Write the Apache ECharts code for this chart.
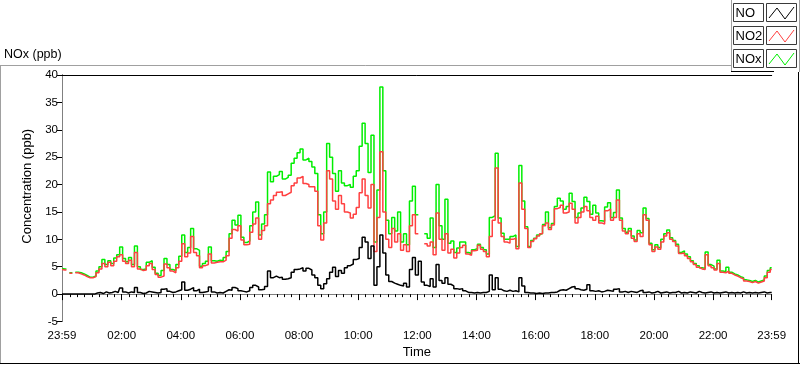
<!DOCTYPE html>
<html><head><meta charset="utf-8">
<script src="https://cdn.jsdelivr.net/npm/echarts@6/dist/echarts.min.js"></script>
<style>html,body{margin:0;padding:0;background:#fff}#c{width:800px;height:365px}</style>
</head><body><div id="c"></div>
<script>
// x = minutes after 23:59 (previous day); samples every 6 minutes
const stepMinutes = 6;
const tickLabelMinutes = [0,121,241,361,481,601,721,841,961,1081,1201,1321,1440];
const seriesNames = ['NO','NO2','NOx'];
const seriesColors = ['#000000','#ff4040','#00ee00'];

const no = [
0,0,0,0,0,0,0,0,0,0,
0,0,0.2,0.3,0.1,0.4,0.2,0.3,0.5,0.3,
1.1,0.4,0.2,0.4,0.3,1.2,0.3,0.1,0.2,0.5,
0.4,0.3,0.2,0.3,0.9,1.0,0.5,0.3,0.4,0.6,
0.8,2.2,0.7,0.9,1.2,0.6,0.9,0.3,0.4,0.5,
1.3,0.4,0.2,0.3,0.2,0.5,0.8,0.7,1.2,1.0,
0.6,0.5,0.4,0.6,1.2,1.6,1.3,0.8,0.9,1.4,
4.2,3.0,3.3,3.0,3.1,2.7,2.8,3.0,4.0,4.5,
4.6,4.8,4.2,4.7,4.4,3.5,3.0,1.6,1.0,1.9,
2.8,4.0,4.9,3.2,4.3,3.8,4.8,5.2,5.5,6.3,
6.5,8.5,10.4,9.5,6.5,8.8,1.6,5.0,10.8,7.5,
3.5,2.3,2.0,1.8,1.6,1.5,2.0,1.3,4.5,6.7,
3.5,6.0,2.2,1.6,1.4,2.8,1.3,5.4,2.5,2.0,
3.0,1.8,1.5,1.0,0.9,1.0,0.6,0.3,0.3,0.2,
0.3,0.2,0.3,0.3,0.5,3.5,0.8,3.0,0.9,0.6,
0.5,0.7,0.5,0.6,0.4,3.0,1.5,0.3,0.2,0.2,
0.1,0.2,0.1,0.2,0.2,0.3,0.3,0.4,0.7,0.8,
0.7,1.0,1.3,1.4,1.0,0.8,0.7,0.9,1.7,0.6,
0.5,0.6,0.4,0.5,0.7,0.6,0.5,0.9,1.0,0.4,
0.5,0.3,0.5,0.4,0.3,0.6,0.7,0.3,0.4,0.2,
0.3,0.5,0.2,0.3,0.4,0.2,0.3,0.3,0.5,0.2,
0.3,0.2,0.4,0.3,0.2,0.5,0.3,0.2,0.3,0.4,
0.2,0.3,0.2,0.3,0.4,0.2,0.3,0.2,0.3,0.2,
0.4,0.2,0.3,0.2,0.3,0.2,0.3,0.4,0.2,0.3,
0.3];

const no2 = [
4.5,4.4,null,3.8,null,3.9,3.7,3.5,3.2,3.0,
3.0,3.2,3.9,4.6,5.6,5.0,5.8,5.2,6.0,6.8,
7.2,6.0,5.6,6.2,5.0,7.6,4.6,4.3,4.4,5.2,
5.6,4.5,3.6,3.1,3.3,5.5,4.8,4.2,3.9,4.8,
6.0,9.2,6.8,7.5,10.5,7.6,7.0,4.8,5.2,5.4,
7.3,5.7,5.8,5.9,5.9,6.2,7.0,10.2,11.8,11.5,
12.5,9.9,9.0,9.1,11.3,12.8,13.9,10.0,11.6,12.5,
16.5,17.2,18.0,18.6,18.7,18.0,18.3,18.6,19.8,20.3,
21.2,21.5,20.2,20.0,19.6,19.6,18.8,12.5,9.9,13.0,
22.5,21.0,17.0,15.5,18.0,16.5,15.0,14.8,13.9,14.6,
15.8,18.5,21.0,18.0,15.7,20.0,7.8,14.0,26.0,15.0,
10.0,8.5,12.0,9.5,11.0,8.0,9.0,7.8,12.5,14.5,
11.0,null,null,9.2,8.8,9.5,7.2,14.8,10.0,8.0,
11.0,7.5,8.2,6.6,7.5,8.5,8.9,7.3,7.1,7.9,
8.0,8.9,8.2,7.8,6.8,10.5,13.5,23.0,13.0,10.5,
9.5,9.3,10.0,10.2,8.3,20.3,15.5,12.0,8.5,9.6,
10.1,10.6,11.0,12.5,13.0,11.8,12.6,15.6,15.8,16.2,
14.8,15.0,16.6,15.5,13.0,14.0,15.0,16.0,15.2,14.0,
13.5,14.2,13.0,12.8,15.2,15.5,13.5,14.0,17.2,13.5,
11.5,11.0,11.5,10.2,9.6,11.0,10.5,14.5,13.5,9.0,
7.8,8.6,8.2,9.5,10.6,11.2,10.0,9.6,8.8,7.4,
7.5,7.0,6.5,5.9,5.4,4.9,4.6,4.5,7.2,5.2,
4.8,4.4,5.6,4.0,3.9,4.2,3.8,3.5,3.3,3.0,
2.8,2.4,2.3,2.1,2.3,2.0,2.2,2.4,3.0,4.0,
4.5];

const nox = [
4.7,4.6,null,3.9,null,4.0,3.9,3.7,3.4,3.1,
3.1,3.3,4.2,5.0,6.3,5.4,6.1,5.6,6.6,7.2,
8.6,6.5,5.9,6.7,5.4,8.8,5.0,4.5,4.6,5.8,
6.1,4.9,3.8,3.4,4.3,6.5,5.4,4.5,4.3,5.4,
6.9,10.8,7.6,8.5,12.0,8.3,8.0,5.1,5.6,6.0,
8.6,6.1,6.0,6.2,6.1,6.7,7.8,11.0,13.5,12.6,
14.4,10.4,9.4,9.7,12.5,15.0,16.8,10.8,12.8,14.5,
22.3,20.5,21.5,21.8,22.4,21.0,21.3,21.7,23.9,24.8,
25.8,26.5,24.5,24.8,24.2,23.2,22.0,14.5,11.0,15.0,
27.5,25.0,22.0,18.8,22.5,20.3,19.8,20.0,19.5,21.5,
22.5,27.0,31.2,27.5,22.2,29.0,9.5,19.0,37.8,22.5,
13.5,11.0,14.0,11.5,15.0,9.5,11.0,9.0,17.0,19.7,
14.5,null,null,11.0,10.2,13.9,8.5,20.0,12.5,10.0,
17.3,9.3,9.7,7.6,8.4,9.5,9.5,7.6,7.4,8.1,
8.3,9.1,8.5,8.1,7.3,14.0,14.3,25.7,13.9,11.1,
10.0,10.0,10.5,10.8,8.7,23.5,17.0,12.3,8.7,9.8,
10.2,10.8,11.1,12.7,15.0,12.1,12.9,16.0,17.5,17.0,
15.5,16.0,18.4,16.9,14.0,14.8,15.7,17.7,16.9,14.6,
16.2,14.8,13.4,13.3,15.9,16.7,14.0,14.9,19.0,13.9,
12.0,11.3,12.0,10.6,9.9,11.6,11.2,15.7,13.8,9.3,
8.1,9.0,8.5,10.0,11.0,11.7,10.3,9.8,9.1,7.6,
7.9,7.3,6.8,6.1,5.6,5.2,4.8,4.7,7.7,5.4,
5.1,4.6,6.2,4.2,4.1,4.9,4.0,3.7,3.5,3.2,
3.0,2.6,2.5,2.3,2.5,2.2,2.4,2.6,3.3,4.3,
4.8];

const FONT = '"Liberation Sans", Arial, sans-serif';
function pairs(arr){ return arr.map((v,i)=>[i*stepMinutes, v]); }
function pad(n){ return (n<10?'0':'')+n; }
function fmt(t){
  if (t <= 0 || t >= 1440) return '23:59';
  const c = (t + 1439) % 1440;
  return pad(Math.floor(c/60)) + ':' + pad(c%60);
}
const minorTicks = [];
for (let t = 1; t < 1440; t += 15) minorTicks.push(t);

const legendGraphics = [];
[0,1,2].forEach(r=>{
  const y0 = 3 + r*23;
  legendGraphics.push(
    {type:'rect', shape:{x:733.5,y:y0+0.5,width:30,height:18}, style:{fill:'#fff',stroke:'#3a3a3a',lineWidth:1}},
    {type:'text', x:735.5, y:y0+10, style:{text:seriesNames[r], font:'13px '+FONT, fill:'#000', verticalAlign:'middle'}},
    {type:'rect', shape:{x:766.5,y:y0+0.5,width:30,height:18}, style:{fill:'#fff',stroke:'#3a3a3a',lineWidth:1}},
    {type:'polyline', shape:{points:[[769,y0+15],[777,y0+5],[785,y0+16],[794,y0+4]]}, style:{stroke:seriesColors[r],lineWidth:1,fill:null}}
  );
});

const LW = 1.5;
const chart = echarts.init(document.getElementById('c'), null, {renderer:'canvas'});
chart.setOption({
  animation:false,
  backgroundColor:'#fff',
  textStyle:{fontFamily:FONT},
  title:{text:'NOx (ppb)', left:4, top:48, padding:0, textStyle:{fontSize:12.5,fontWeight:'normal',color:'#000',fontFamily:FONT}},
  grid:{left:62, right:28.3, top:75, bottom:43.5, containLabel:false, outerBoundsMode:'none'},
  xAxis:[
    {type:'value', min:0, max:1440, position:'bottom',
     axisLine:{show:true, lineStyle:{color:'#808080',width:1}},
     axisTick:{show:true, customValues:tickLabelMinutes, length:6, lineStyle:{color:'#000'}},
     axisLabel:{show:true, customValues:tickLabelMinutes, formatter:fmt, fontSize:11.5, color:'#000', margin:8, fontFamily:FONT},
     splitLine:{show:false},
     name:'Time', nameLocation:'middle', nameGap:24, nameTextStyle:{fontSize:13,color:'#000',fontFamily:FONT}},
    {type:'value', min:0, max:1440, position:'bottom',
     axisLine:{show:false}, axisTick:{show:true, customValues:minorTicks, length:3, lineStyle:{color:'#000'}},
     axisLabel:{show:false}, splitLine:{show:false}},
    {type:'value', min:0, max:1440, position:'top',
     axisLine:{show:true, lineStyle:{color:'#000'}}, axisTick:{show:false}, axisLabel:{show:false}, splitLine:{show:false}}
  ],
  yAxis:[
    {type:'value', min:-5, max:40, interval:5, position:'left',
     axisLine:{show:true, lineStyle:{color:'#000'}},
     axisTick:{show:true, length:5, lineStyle:{color:'#000'}},
     axisLabel:{fontSize:11.5, color:'#000', margin:4, fontFamily:FONT},
     splitLine:{show:false},
     name:'Concentration (ppb)', nameLocation:'middle', nameGap:24,
     nameTextStyle:{fontSize:13, color:'#000', fontFamily:FONT, padding:[0,0,0,24]}},
    {type:'value', min:-5, max:40, interval:5, position:'right',
     axisLine:{show:true, lineStyle:{color:'#808080'}}, axisTick:{show:false}, axisLabel:{show:false}, splitLine:{show:false}}
  ],
  series:[
    {type:'line', name:'NOx', data:pairs(nox), step:'middle', xAxisIndex:0, yAxisIndex:0, showSymbol:false, connectNulls:false, z:2,
     lineStyle:{color:seriesColors[2], width:LW}, itemStyle:{color:seriesColors[2]}},
    {type:'line', name:'NO2', data:pairs(no2), step:'middle', xAxisIndex:0, yAxisIndex:0, showSymbol:false, connectNulls:false, z:3,
     lineStyle:{color:seriesColors[1], width:LW}, itemStyle:{color:seriesColors[1]}},
    {type:'line', name:'NO', data:pairs(no), step:'middle', xAxisIndex:0, yAxisIndex:0, showSymbol:false, connectNulls:false, z:4,
     lineStyle:{color:seriesColors[0], width:LW}, itemStyle:{color:seriesColors[0]}}
  ],
  graphic:[
    {type:'polyline', silent:true, shape:{points:[[0,65.5],[731.5,65.5]]}, style:{stroke:'#a0a0a0',lineWidth:1,fill:null}},
    {type:'polyline', silent:true, shape:{points:[[0.5,65.5],[0.5,363.5]]}, style:{stroke:'#a0a0a0',lineWidth:1,fill:null}},
    {type:'polyline', silent:true, shape:{points:[[0,363.5],[800,363.5]]}, style:{stroke:'#000',lineWidth:1,fill:null}},
    {type:'polyline', silent:true, shape:{points:[[798.5,72],[798.5,364]]}, style:{stroke:'#000',lineWidth:1,fill:null}},
    {type:'polyline', silent:true, shape:{points:[[731.5,0],[731.5,72]]}, style:{stroke:'#a0a0a0',lineWidth:1,fill:null}},
    {type:'polyline', silent:true, shape:{points:[[799.5,0],[799.5,72]]}, style:{stroke:'#a0a0a0',lineWidth:1,fill:null}},
    {type:'polyline', silent:true, shape:{points:[[731,71.5],[774,71.5]]}, style:{stroke:'#000',lineWidth:1,fill:null}}
  ].concat(legendGraphics)
});
</script></body></html>
